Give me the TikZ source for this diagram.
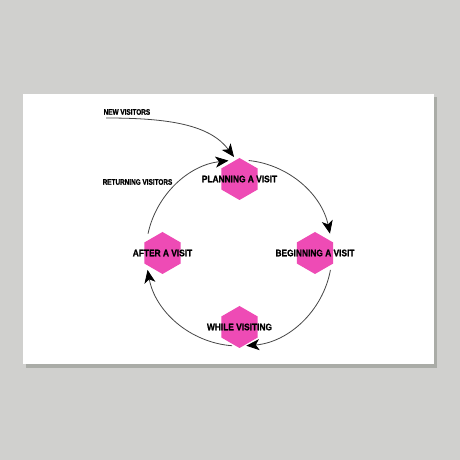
\documentclass[tikz,border=0pt]{standalone}
\usepackage{fontspec}
\newfontfamily\labf[FakeStretch=0.88, BoldFeatures={FakeBold=1.2}]{Liberation Sans}
\newfontfamily\smf[FakeStretch=0.8, BoldFeatures={FakeBold=1.2}]{Liberation Sans}
\usetikzlibrary{shapes.geometric,arrows.meta}
\definecolor{bggray}{RGB}{208,208,206}
\definecolor{shadowgray}{RGB}{170,172,167}
\definecolor{hexpink}{RGB}{238,75,181}
\definecolor{linegray}{RGB}{70,70,70}
\begin{document}
\begin{tikzpicture}[x=1pt,y=1pt,
  hex/.style={regular polygon, regular polygon sides=6, shape border rotate=90,
    minimum size=42pt, inner sep=0pt, fill=hexpink, draw=none},
  lab/.style={font=\labf\bfseries\fontsize{9.5}{10}\selectfont, inner sep=0pt, text=black},
  smlab/.style={font=\smf\bfseries\fontsize{8}{9}\selectfont, inner sep=0pt, anchor=west, text=black},
  conn/.style={draw=linegray, line width=0.8pt,
    -{Stealth[length=13pt,width=11pt,inset=3.5pt,color=black]}}]
\useasboundingbox (0,0) rectangle (460,460);
\fill[bggray] (0,0) rectangle (460,460);
\fill[shadowgray] (26,92) rectangle (437,363);
\fill[white] (23,96) rectangle (434,366);

\coordinate (c) at (239,207);

\node[hex] (p) at (239.5,281) {};
\node[hex] (b) at (315,207) {};
\node[hex] (w) at (239.5,133) {};
\node[hex] (a) at (162.5,207) {};

\node[lab] (pl) at (p) {PLANNING A VISIT};
\node[lab] (bl) at (b) {BEGINNING A VISIT};
\node[lab] (wl) at (w) {WHILE VISITING};
\node[lab] (al) at (a) {AFTER A VISIT};

\node[smlab] (nv) at (103.5,348) {NEW VISITORS};
\node[smlab] (rv) at (102.5,278) {RETURNING VISITORS};

\coordinate (nvs) at (106,342);
\coordinate (nve) at (234,303);
\draw[conn] (nvs) .. controls (170,342) and (210,335) .. (nve);

\draw[conn] ([shift={(84:93)}]c) arc[start angle=84, end angle=12, radius=93];
\draw[conn] ([shift={(-10.5:93)}]c) arc[start angle=-10.5, end angle=-85.5, radius=93];
\draw[conn] ([shift={(265.7:93)}]c) arc[start angle=265.7, end angle=190.5, radius=93];
\draw[conn] ([shift={(168:93)}]c) arc[start angle=168, end angle=96.5, radius=93];
\end{tikzpicture}
\end{document}
